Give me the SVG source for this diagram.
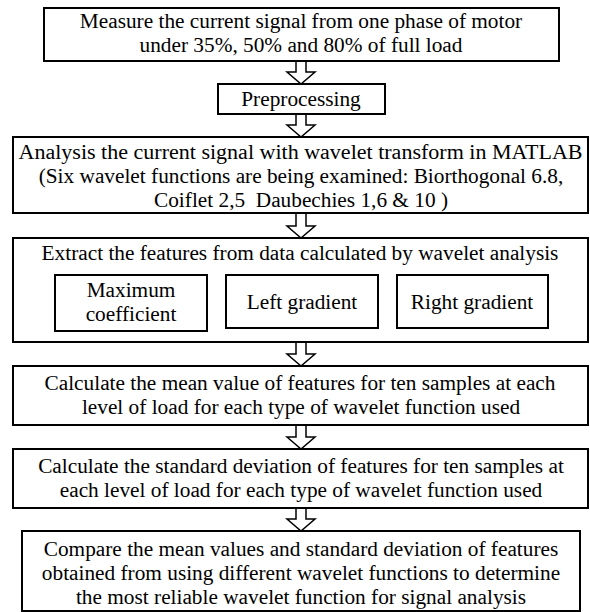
<svg xmlns="http://www.w3.org/2000/svg" width="590" height="612" viewBox="0 0 590 612">
<style>
.box{fill:#fff;stroke:#000;stroke-width:2}
.arr{fill:#fff;stroke:#000;stroke-width:1.5;stroke-linejoin:miter}
text{font-family:"Liberation Serif","Times New Roman","DejaVu Serif",serif;font-size:21.3px;fill:#000;text-anchor:middle}
</style>
<rect width="590" height="612" fill="#fff"/>
<g id="connectors">
<polygon class="arr" points="296,61 306,61 306,72 315,72 301,84 287,72 296,72"/>
<polygon class="arr" points="296,114 306,114 306,125 315,125 301,137 287,125 296,125"/>
<polygon class="arr" points="296,213 306,213 306,226 315,226 301,238 287,226 296,226"/>
<polygon class="arr" points="296,342 306,342 306,354 315,354 301,366 287,354 296,354"/>
<polygon class="arr" points="296,425 306,425 306,437 315,437 301,449 287,437 296,437"/>
<polygon class="arr" points="296,508 306,508 306,519 315,519 301,531 287,519 296,519"/>
</g>
<g id="measure">
<rect class="box" x="44" y="8" width="515" height="53"/>
<text x="301" y="28">Measure the current signal from one phase of motor</text>
<text x="301" y="52">under 35%, 50% and 80% of full load</text>
</g>
<g id="preprocessing">
<rect class="box" x="218" y="84" width="167" height="30"/>
<text x="301" y="106">Preprocessing</text>
</g>
<g id="analysis">
<rect class="box" x="13" y="137" width="575" height="76"/>
<text x="300.5" y="159" textLength="564" lengthAdjust="spacingAndGlyphs">Analysis the current signal with wavelet transform in MATLAB</text>
<text x="301" y="183">(Six wavelet functions are being examined: Biorthogonal 6.8,</text>
<text x="301" y="207" xml:space="preserve">Coiflet 2,5  Daubechies 1,6 &amp; 10 )</text>
</g>
<g id="extract">
<rect class="box" x="13" y="238" width="575" height="104"/>
<text x="300" y="260">Extract the features from data calculated by wavelet analysis</text>
</g>
<g id="max-coefficient">
<rect class="box" x="55" y="275" width="152" height="56"/>
<text x="131" y="297">Maximum</text>
<text x="131" y="321">coefficient</text>
</g>
<g id="left-gradient">
<rect class="box" x="226" y="275" width="152" height="53"/>
<text x="302" y="309">Left gradient</text>
</g>
<g id="right-gradient">
<rect class="box" x="397" y="275" width="151" height="53"/>
<text x="472" y="309">Right gradient</text>
</g>
<g id="mean">
<rect class="box" x="13" y="366" width="575" height="59"/>
<text x="300" y="390">Calculate the mean value of features for ten samples at each</text>
<text x="301" y="414">level of load for each type of wavelet function used</text>
</g>
<g id="std">
<rect class="box" x="13" y="449" width="575" height="59"/>
<text x="301" y="473">Calculate the standard deviation of features for ten samples at</text>
<text x="301" y="497">each level of load for each type of wavelet function used</text>
</g>
<g id="compare">
<rect class="box" x="22" y="531" width="558" height="80"/>
<text x="301" y="556">Compare the mean values and standard deviation of features</text>
<text x="301" y="580">obtained from using different wavelet functions to determine</text>
<text x="301" y="604">the most reliable wavelet function for signal analysis</text>
</g>
</svg>
